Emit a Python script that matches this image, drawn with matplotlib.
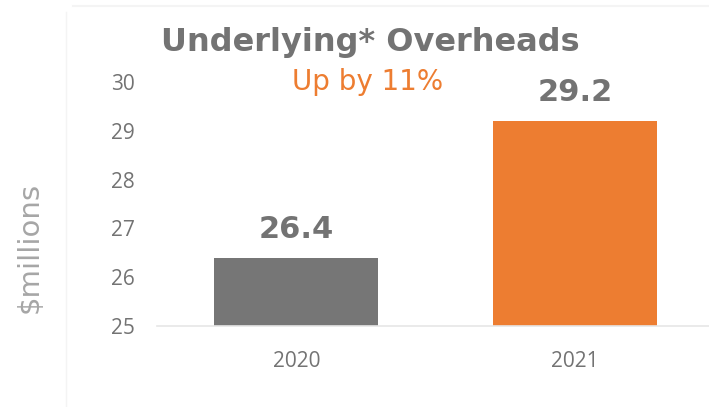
import matplotlib
matplotlib.use('Agg')
import matplotlib.pyplot as plt
from matplotlib.lines import Line2D

years = ['2020', '2021']
overheads = [26.4, 29.2]
bar_colors = ['#767676', '#ED7D31']
title = 'Underlying* Overheads'
subtitle = 'Up by 11%'
ylabel = '$millions'

GRAY = '#737373'
W, H = 709, 407

fig = plt.figure(figsize=(W / 100, H / 100), dpi=100)
# axes placed in pixel terms: x from 157 to 714, y from 326 (25) to 82 (30)
ax = fig.add_axes([157 / W, (H - 326) / H, (714.5 - 157) / W, (326 - 82) / H])

x = range(len(years))
ax.bar(x, overheads, width=0.588, color=bar_colors, zorder=2)
ax.set_xlim(-0.5, 1.5)
ax.set_ylim(25, 30)
ax.set_yticks(range(25, 31))
ax.set_xticks(list(x))
ax.set_xticklabels(years)

for s in ['top', 'right', 'left']:
    ax.spines[s].set_visible(False)
ax.spines['bottom'].set_color('#e6e6e6')
ax.spines['bottom'].set_linewidth(1.2)
ax.tick_params(length=0, colors=GRAY, labelsize=15)
ax.tick_params(axis='y', pad=16)
ax.tick_params(axis='x', pad=18)
for lbl in ax.get_xticklabels() + ax.get_yticklabels():
    lbl.set_family('Open Sans')

for xi, v in zip(x, overheads):
    ax.annotate(f'{v}', (xi, v), xytext=(0, 10), textcoords='offset points',
                ha='center', va='bottom', fontsize=22, fontweight='bold',
                color=GRAY, family='DejaVu Sans')

fig.text(370 / W, 1 - 43 / H, title, ha='center', va='center', fontsize=23,
         fontweight='bold', color=GRAY, family='DejaVu Sans')
fig.text(368 / W, 1 - 82 / H, subtitle, ha='center', va='center', fontsize=20,
         color='#ED7D31', family='DejaVu Sans')
fig.text(30 / W, 1 - 247 / H, ylabel, ha='center', va='center', fontsize=21,
         rotation=90, color='#A6A6A6', family='DejaVu Sans')

# faint frame lines of the original slide
fig.add_artist(Line2D([66 / W, 66 / W], [0, 1 - 12 / H], color='#f4f4f4', lw=1))
fig.add_artist(Line2D([73 / W, 1], [1 - 6 / H, 1 - 6 / H], color='#f4f4f4', lw=1.5))

fig.savefig('out.png', dpi=100)
